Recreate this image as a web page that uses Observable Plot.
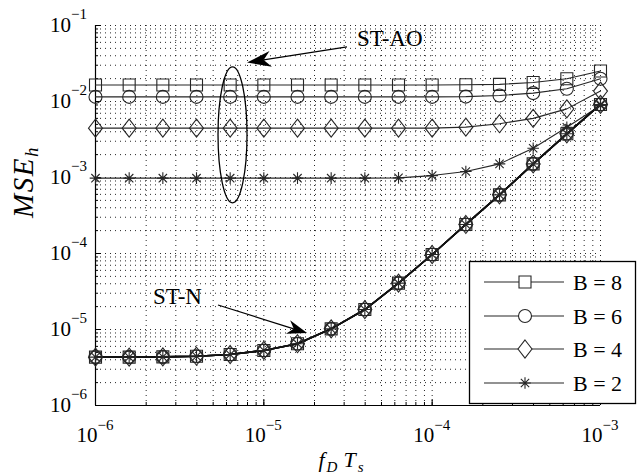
<!DOCTYPE html>
<html><head><meta charset="utf-8">
<script src="https://cdn.jsdelivr.net/npm/d3@7"></script>
<script src="https://cdn.jsdelivr.net/npm/@observablehq/plot@0.6"></script>
<style>body{margin:0;background:#fff}</style>
</head><body><div id="chart"></div>
<script>
// ---- data ----
const fdTs = [1e-6, 1.585e-6, 2.512e-6, 3.981e-6, 6.310e-6, 1e-5, 1.585e-5, 2.512e-5, 3.981e-5, 6.310e-5, 1e-4, 1.585e-4, 2.512e-4, 3.981e-4, 6.310e-4, 1e-3];
const seriesLabels = ["B = 8", "B = 6", "B = 4", "B = 2"];
const stAO_B8 = [0.0165,0.0165,0.0165,0.0165,0.0165,0.0165,0.0165,0.0165,0.0165,0.0165,0.0165,0.0166,0.0168,0.0178,0.0199,0.0252];
const stAO_B6 = [0.0115,0.0115,0.0115,0.0115,0.0115,0.0115,0.0115,0.0115,0.0115,0.0115,0.0115,0.0116,0.0120,0.0129,0.0147,0.0199];
const stAO_B4 = [0.00446,0.00446,0.00446,0.00446,0.00446,0.00446,0.00446,0.00446,0.00446,0.00446,0.00446,0.0046,0.0051,0.0060,0.0080,0.0137];
const stAO_B2 = [0.00098,0.00098,0.00098,0.00098,0.00098,0.00098,0.00098,0.00098,0.00098,0.00099,0.00106,0.0012,0.00151,0.00243,0.00459,0.00886];
const stN = [4.33e-6,4.33e-6,4.36e-6,4.45e-6,4.69e-6,5.3e-6,6.5e-6,1.02e-5,1.83e-5,4.07e-5,9.7e-5,2.41e-4,5.91e-4,1.51e-3,3.76e-3,9.15e-3];
const xTickExps = [-6, -5, -4, -3];
const yTickExps = [-6, -5, -4, -3, -2, -1];
const xLabelParts = [["f", "D"], ["T", "s"]];
const yLabelParts = ["MSE", "h"];
const annoTexts = ["ST-AO", "ST-N"];

// annotation positions in data space
const aoLabelPos = [3.6e-5, 0.0675];
const aoArrow = [[3.14e-5, 0.0514], [8.0e-6, 0.0321]];
const nLabelPos = [2.21e-6, 2.72e-5];
const nArrow = [[5.38e-6, 2.07e-5], [1.82e-5, 8.85e-6]];
const ellipseBox = [[5.38e-6, 0.0282], [8.0e-6, 4.57e-4]];

// ---- symbols ----
const symSquare = {draw(c){ c.moveTo(-6,-6); c.lineTo(6,-6); c.lineTo(6,6); c.lineTo(-6,6); c.closePath(); }};
const symCircle = {draw(c){ c.moveTo(6.5,0); c.arc(0,0,6.5,0,2*Math.PI); c.closePath(); }};
const symDiamond = {draw(c){ c.moveTo(0,-9); c.lineTo(7,0); c.lineTo(0,9); c.lineTo(-7,0); c.closePath(); }};
const symStar = {draw(c){ const r=5.8, d=r*0.72;
  c.moveTo(0,-r); c.lineTo(0,r); c.moveTo(-r,0); c.lineTo(r,0);
  c.moveTo(-d,-d); c.lineTo(d,d); c.moveTo(-d,d); c.lineTo(d,-d); }};
const symbols = [symSquare, symCircle, symDiamond, symStar];
const aoSeries = [stAO_B8, stAO_B6, stAO_B4, stAO_B2];

const rows = [];
seriesLabels.forEach((lab, i) => {
  fdTs.forEach((x, k) => {
    rows.push({x, y: aoSeries[i][k], series: lab, kind: "AO", key: lab + "AO"});
    rows.push({x, y: stN[k], series: lab, kind: "N", key: lab + "N"});
  });
});

const minorX = [];
for (let e = -6; e < -3; e++) for (let m = 1; m <= 9; m++) minorX.push(m * Math.pow(10, e));
minorX.push(1e-3);
const minorY = [];
for (let e = -6; e < -1; e++) for (let m = 1; m <= 9; m++) minorY.push(m * Math.pow(10, e));
minorY.push(1e-1);
const majorX = xTickExps.map(e => Math.pow(10, e));
const majorY = yTickExps.map(e => Math.pow(10, e));

const ink = "#262626";
const font = "'Liberation Serif', 'Times New Roman', serif";

const plot = Plot.plot({
  width: 637, height: 474,
  marginLeft: 95, marginRight: 37, marginTop: 25, marginBottom: 69,
  x: {type: "log", domain: [1e-6, 1e-3]},
  y: {type: "log", domain: [1e-6, 1e-1]},
  style: {fontFamily: font, background: "white", overflow: "visible"},
  marks: [
    Plot.gridX(minorX, {stroke: "#000", strokeOpacity: 0.85, strokeDasharray: "1,4", strokeWidth: 1}),
    Plot.gridY(minorY, {stroke: "#000", strokeOpacity: 0.85, strokeDasharray: "1,4", strokeWidth: 1}),
    Plot.axisX(minorX, {tickSize: -3, tickFormat: () => "", label: null, stroke: "#000"}),
    Plot.axisX(majorX, {tickSize: -6, tickFormat: () => "", label: null, stroke: "#000"}),
    Plot.axisY(minorY, {tickSize: -3, tickFormat: () => "", label: null, stroke: "#000"}),
    Plot.axisY(majorY, {tickSize: -6, tickFormat: () => "", label: null, stroke: "#000"}),
    Plot.ruleX([1e-6], {stroke: "#000", strokeWidth: 1.2}),
    Plot.ruleY([1e-6], {stroke: "#000", strokeWidth: 1.2}),
    Plot.line(rows.filter(d => d.kind === "AO"), {x: "x", y: "y", z: "key", stroke: ink, strokeWidth: 1.1}),
    Plot.line(rows.filter(d => d.kind === "N"), {x: "x", y: "y", z: "key", stroke: "#111", strokeWidth: 1.6}),
    ...seriesLabels.map((lab, i) => Plot.dot(rows.filter(d => d.series === lab), {
      x: "x", y: "y", symbol: symbols[i], stroke: ink, strokeWidth: 1.1, fill: "none"
    }))
  ]
});

document.getElementById("chart").append(plot);
const svg = d3.select(plot);
const sx = plot.scale("x"), sy = plot.scale("y");
const X = v => sx.apply(v), Y = v => sy.apply(v);

// tick labels
const g = svg.append("g").attr("font-family", font).attr("fill", "#000");
xTickExps.forEach(e => {
  const t = g.append("text").attr("x", X(Math.pow(10, e))).attr("y", 442).attr("text-anchor", "middle").attr("font-size", 21);
  t.append("tspan").text("10");
  t.append("tspan").attr("dy", -12).attr("font-size", 15).text("\u2212" + Math.abs(e));
});
yTickExps.forEach(e => {
  const t = g.append("text").attr("x", 87).attr("y", Y(Math.pow(10, e)) + 7).attr("text-anchor", "end").attr("font-size", 21);
  t.append("tspan").text("10");
  t.append("tspan").attr("dy", -13).attr("font-size", 15).text("\u2212" + Math.abs(e));
});

// axis labels
const xl = g.append("text").attr("x", 342).attr("y", 467).attr("text-anchor", "middle")
  .attr("font-size", 22).attr("font-style", "italic").attr("letter-spacing", 2);
xLabelParts.forEach(([a, b], i) => {
  xl.append("tspan").attr("dy", i === 0 ? 0 : -5).attr("dx", i === 0 ? 0 : 4).text(a);
  xl.append("tspan").attr("dy", 5).attr("font-size", 15).text(b);
});
const yl = g.append("text").attr("transform", "translate(33,182) rotate(-90)").attr("text-anchor", "middle")
  .attr("font-size", 29).attr("font-style", "italic").attr("letter-spacing", 1.5);
yl.append("tspan").text(yLabelParts[0]);
yl.append("tspan").attr("dy", 5).attr("font-size", 19).text(yLabelParts[1]);

// annotations
const ann = svg.append("g");
ann.append("ellipse")
  .attr("cx", (X(ellipseBox[0][0]) + X(ellipseBox[1][0])) / 2)
  .attr("cy", (Y(ellipseBox[0][1]) + Y(ellipseBox[1][1])) / 2)
  .attr("rx", (X(ellipseBox[1][0]) - X(ellipseBox[0][0])) / 2)
  .attr("ry", (Y(ellipseBox[1][1]) - Y(ellipseBox[0][1])) / 2)
  .attr("fill", "none").attr("stroke", "#000").attr("stroke-width", 1.3);

function arrow(a, len, hw) {
  const x1 = X(a[0][0]), y1 = Y(a[0][1]), x2 = X(a[1][0]), y2 = Y(a[1][1]);
  const dx = x2 - x1, dy = y2 - y1, L = Math.hypot(dx, dy), ux = dx / L, uy = dy / L;
  const bx = x2 - ux * len, by = y2 - uy * len;
  const nx = x2 - ux * len * 0.7, ny = y2 - uy * len * 0.7;
  ann.append("line").attr("x1", x1).attr("y1", y1).attr("x2", nx).attr("y2", ny)
    .attr("stroke", "#000").attr("stroke-width", 1.2);
  ann.append("path").attr("fill", "#000")
    .attr("d", `M${x2},${y2}L${bx - uy * hw},${by + ux * hw}L${nx},${ny}L${bx + uy * hw},${by - ux * hw}Z`);
}
arrow(aoArrow, 24, 8);
arrow(nArrow, 20, 7);

ann.append("text").attr("x", X(aoLabelPos[0])).attr("y", Y(aoLabelPos[1])).attr("dy", "0.35em")
  .attr("text-anchor", "start").attr("font-family", font).attr("font-size", 23).text(annoTexts[0]);
ann.append("text").attr("x", X(nLabelPos[0])).attr("y", Y(nLabelPos[1])).attr("dy", "0.35em")
  .attr("text-anchor", "start").attr("font-family", font).attr("font-size", 23).text(annoTexts[1]);

// legend
const lg = svg.append("g");
lg.append("rect").attr("x", 469.5).attr("y", 261.5).attr("width", 166).attr("height", 142)
  .attr("fill", "#fff").attr("stroke", "#000").attr("stroke-width", 1.3);
const legY = [282, 316, 349, 383];
seriesLabels.forEach((lab, i) => {
  lg.append("line").attr("x1", 484).attr("x2", 564).attr("y1", legY[i]).attr("y2", legY[i])
    .attr("stroke", ink).attr("stroke-width", 1.1);
  const p = d3.path(); symbols[i].draw(p);
  lg.append("path").attr("d", p.toString()).attr("transform", `translate(525,${legY[i]})`)
    .attr("fill", i === 3 ? "none" : "#fff").attr("stroke", ink).attr("stroke-width", 1.1);
  lg.append("text").attr("x", 573).attr("y", legY[i] + 8).attr("text-anchor", "start").attr("font-family", font)
    .attr("font-size", 22).text(lab);
});
</script>
</body></html>
